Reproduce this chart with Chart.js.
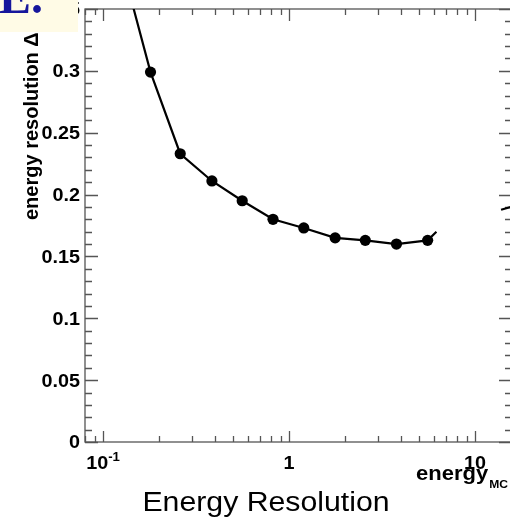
<!DOCTYPE html>
<html>
<head>
<meta charset="utf-8">
<script src="https://cdn.jsdelivr.net/npm/chart.js@4.4.0/dist/chart.umd.min.js"></script>
<style>
  html, body { margin: 0; padding: 0; overflow: hidden; background: #fff; }
  #c { display: block; }
</style>
</head>
<body>
<canvas id="c" width="520" height="517"></canvas>
<script>
// measured points: energy_MC vs energy resolution
var energyMC   = [0.18, 0.26, 0.385, 0.56, 0.82, 1.2, 1.77, 2.57, 3.78, 5.56];
var resolution = [0.299, 0.233, 0.211, 0.195, 0.180, 0.173, 0.165, 0.163, 0.160, 0.163];

// line through the points, running out of the frame at both ends
var curveX = [0.145].concat(energyMC, [6.2]);
var curveY = [0.352].concat(resolution, [0.170]);

// short piece of another curve at the right edge
var tailX = [13.8, 16];
var tailY = [0.1877, 0.1905];

// axes
var xMin = 0.08, xMax = 15.8;
var yMin = 0, yMax = 0.35;
var xTickValues = [0.1, 1, 10];
var xTickLabels = ['10^-1', '1', '10'];
var yTickValues = [0, 0.05, 0.1, 0.15, 0.2, 0.25, 0.3, 0.35];
var yTickLabels = ['0', '0.05', '0.1', '0.15', '0.2', '0.25', '0.3', '0.35'];

var yTitle = 'energy resolution \u0394E/E';
var xTitle = 'energy';
var xTitleSub = 'MC';
var footer = 'Energy Resolution';
var cornerText = 'E.';

function pts(xs, ys) {
    return xs.map(function(x, i) { return {x: x, y: ys[i]}; });
}

var SANS = '"Liberation Sans", Arial, sans-serif';

function stretchedText(ctx, text, x, y, align, sx) {
    ctx.save();
    ctx.translate(x, y);
    ctx.scale(sx, 1);
    ctx.textAlign = align;
    ctx.fillText(text, 0, 0);
    ctx.restore();
}

var rootFrame = {
    id: 'rootFrame',
    beforeDraw: function(chart) {
        var ctx = chart.ctx;
        ctx.save();
        ctx.fillStyle = '#fff';
        ctx.fillRect(0, 0, chart.width, chart.height);
        ctx.restore();
    },
    beforeDatasetsDraw: function(chart) {
        var ctx = chart.ctx, a = chart.chartArea;
        var xs = chart.scales.x, ys = chart.scales.y;
        ctx.save();
        ctx.strokeStyle = '#555';
        ctx.lineWidth = 1.3;
        ctx.beginPath();
        // x ticks, bottom and top
        for (var e = -2; e <= 1; e++) {
            for (var m = 1; m <= 9; m++) {
                var v = m * Math.pow(10, e);
                if (v < xMin || v > xMax) continue;
                var px = Math.round(xs.getPixelForValue(v)) + 0.5;
                var lb = m === 1 ? 11 : 6;
                var lt = m === 1 ? 12 : 6;
                ctx.moveTo(px, a.bottom); ctx.lineTo(px, a.bottom - lb);
                ctx.moveTo(px, a.top); ctx.lineTo(px, a.top + lt);
            }
        }
        // y ticks, left and right (minor every 0.01)
        for (var i = 0; i <= 35; i++) {
            var py = Math.round(ys.getPixelForValue(i / 100)) + 0.5;
            var l = i % 5 === 0 ? 13 : 7;
            ctx.moveTo(a.left, py); ctx.lineTo(a.left + l, py);
            ctx.moveTo(a.right, py); ctx.lineTo(a.right - l, py);
        }
        ctx.stroke();
        ctx.strokeRect(a.left, a.top, a.right - a.left, a.bottom - a.top);
        ctx.restore();
    },
    afterDraw: function(chart) {
        var ctx = chart.ctx, a = chart.chartArea;
        var xs = chart.scales.x, ys = chart.scales.y;
        ctx.save();
        ctx.fillStyle = '#000';
        ctx.textBaseline = 'alphabetic';

        // y tick labels
        ctx.font = 'bold 18px ' + SANS;
        yTickValues.forEach(function(v, i) {
            var py = ys.getPixelForValue(v);
            stretchedText(ctx, yTickLabels[i], a.left - 5, py + 6.4, 'right', 1.1);
        });

        // x tick labels
        xTickValues.forEach(function(v, i) {
            var px = xs.getPixelForValue(v);
            var parts = xTickLabels[i].split('^');
            ctx.font = 'bold 18px ' + SANS;
            var w1 = ctx.measureText(parts[0]).width * 1.1;
            var w2 = 0;
            if (parts[1]) {
                ctx.font = 'bold 12px ' + SANS;
                w2 = ctx.measureText(parts[1]).width * 1.1;
            }
            var x0 = px - (w1 + w2) / 2;
            ctx.font = 'bold 18px ' + SANS;
            stretchedText(ctx, parts[0], x0, 469, 'left', 1.1);
            if (parts[1]) {
                ctx.font = 'bold 12px ' + SANS;
                stretchedText(ctx, parts[1], x0 + w1, 461, 'left', 1.1);
            }
        });

        // x title with subscript, right aligned at the frame end
        ctx.font = 'bold 11px ' + SANS;
        var ws = ctx.measureText(xTitleSub).width * 1.1;
        stretchedText(ctx, xTitleSub, 508, 488, 'right', 1.1);
        ctx.font = 'bold 20px ' + SANS;
        stretchedText(ctx, xTitle, 508 - ws - 1, 480, 'right', 1.1);

        // y title, rotated
        ctx.save();
        ctx.translate(38, 220);
        ctx.rotate(-Math.PI / 2);
        ctx.font = 'bold 20px ' + SANS;
        ctx.textAlign = 'left';
        ctx.fillText(yTitle, 0, 0);
        ctx.restore();

        // caption under the plot
        ctx.font = '27px ' + SANS;
        stretchedText(ctx, footer, 266, 511, 'center', 1.12);

        // slide heading corner
        ctx.fillStyle = '#fffbe6';
        ctx.fillRect(0, 0, 78, 32);
        ctx.fillStyle = '#16169c';
        ctx.font = 'bold 48px "Liberation Serif", "Times New Roman", serif';
        ctx.textAlign = 'left';
        ctx.fillText(cornerText, -1, 13);
        ctx.restore();
    }
};

var ctx = document.getElementById('c').getContext('2d');
var chart = new Chart(ctx, {
    type: 'scatter',
    data: {
        datasets: [{
            data: pts(curveX, curveY),
            showLine: true,
            borderColor: '#000',
            borderWidth: 2.2,
            pointRadius: 0,
            tension: 0
        }, {
            data: pts(energyMC, resolution),
            showLine: false,
            backgroundColor: '#000',
            borderColor: '#000',
            pointRadius: 5.6,
            borderWidth: 0
        }, {
            data: pts(tailX, tailY),
            showLine: true,
            borderColor: '#000',
            borderWidth: 2.2,
            pointRadius: 0
        }]
    },
    options: {
        responsive: false,
        animation: false,
        events: [],
        layout: {
            padding: {left: 85, top: 9, right: 8, bottom: 75}
        },
        plugins: {
            legend: {display: false},
            tooltip: {enabled: false}
        },
        scales: {
            x: {type: 'logarithmic', min: xMin, max: xMax, display: false},
            y: {type: 'linear', min: yMin, max: yMax, display: false}
        }
    },
    plugins: [rootFrame]
});
</script>
</body>
</html>
